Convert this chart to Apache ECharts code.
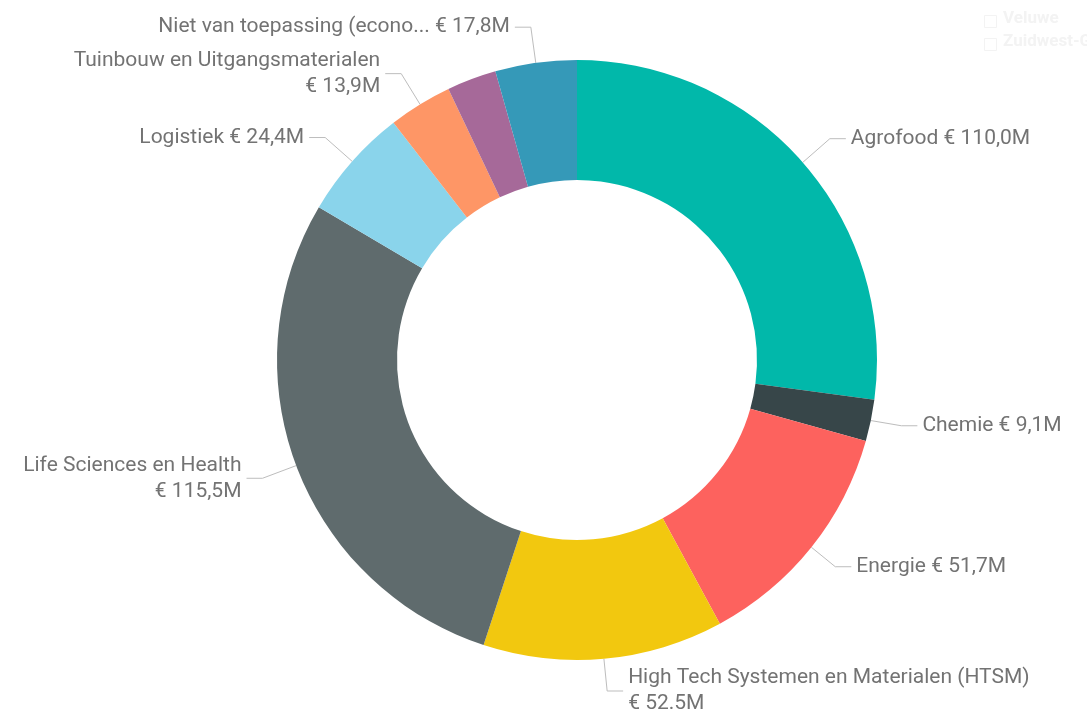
<!DOCTYPE html>
<html>
<head>
<meta charset="utf-8">
<title>Donut</title>
<script src="https://cdn.jsdelivr.net/npm/echarts@6/dist/echarts.min.js"></script>
<style>
  html, body { margin: 0; padding: 0; background: #fff; }
  #chart { width: 1087px; height: 718px; }
</style>
</head>
<body>
<div id="chart"></div>
<script>
// categorieen, in volgorde met de klok mee vanaf boven
var categories = [
  'Agrofood',
  'Chemie',
  'Energie',
  'High Tech Systemen en Materialen (HTSM)',
  'Life Sciences en Health',
  'Logistiek',
  'Tuinbouw en Uitgangsmaterialen',
  'Overig',
  'Niet van toepassing (econo...'
]
// bedragen in miljoen euro
var values = [110.0, 9.1, 51.7, 52.5, 115.5, 24.4, 13.9, 10.8, 17.8]
// labelteksten zoals in het origineel (leeg = geen label)
var labelTexts = [
  'Agrofood € 110,0M',
  'Chemie € 9,1M',
  'Energie € 51,7M',
  'High Tech Systemen en Materialen (HTSM)\n€ 52.5M',
  'Life Sciences en Health\n€ 115,5M',
  'Logistiek € 24,4M',
  'Tuinbouw en Uitgangsmaterialen\n€ 13,9M',
  '',
  'Niet van toepassing (econo... € 17,8M'
]
var colors = ['#01B8AA', '#374649', '#FD625E', '#F2C80F', '#5F6B6D', '#8AD4EB', '#FE9666', '#A66999', '#3599B8']
var legendNames = ['Veluwe', 'Zuidwest-G']

var chart = echarts.init(document.getElementById('chart'))

var pieData = categories.map(function (name, i) {
  var item = { name: name, value: values[i], itemStyle: { color: colors[i] } }
  if (!labelTexts[i]) {
    item.label = { show: false }
    item.labelLine = { show: false }
  }
  return item
})

// vage legenda rechtsboven
var graphics = []
legendNames.forEach(function (n, i) {
  graphics.push({
    type: 'rect',
    left: 982,
    top: 13 + i * 23,
    shape: { width: 12, height: 12 },
    style: { fill: 'none', stroke: '#f3f3f3', lineWidth: 1 }
  })
  graphics.push({
    type: 'text',
    left: 1003,
    top: 10 + i * 23,
    style: { text: n, fill: '#f3f3f3', font: 'bold 17px Roboto' }
  })
})

chart.setOption({
  backgroundColor: '#ffffff',
  animation: false,
  graphic: graphics,
  series: [{
    type: 'pie',
    center: [577, 360],
    radius: [180, 300],
    startAngle: 90,
    clockwise: true,
    avoidLabelOverlap: true,
    data: pieData,
    label: {
      show: true,
      formatter: function (p) { return labelTexts[p.dataIndex] },
      color: '#737373',
      fontFamily: 'Roboto',
      fontSize: 21,
      lineHeight: 26
    },
    labelLine: {
      show: true,
      length: 36,
      length2: 16,
      lineStyle: { color: '#bdbdbd', width: 1 }
    },
    itemStyle: { borderWidth: 0 },
    emphasis: { disabled: true }
  }]
})
</script>
</body>
</html>
